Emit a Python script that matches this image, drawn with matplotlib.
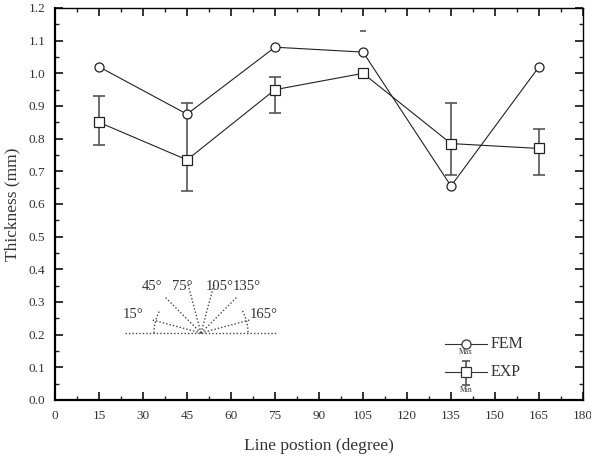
import numpy as np
import matplotlib
matplotlib.use("Agg")
import matplotlib.pyplot as plt
from matplotlib.ticker import MultipleLocator

plt.rcParams['font.family'] = ['Liberation Serif', 'DejaVu Serif']

positions = [15, 45, 75, 105, 135, 165]
fem = [1.02, 0.875, 1.08, 1.065, 0.655, 1.02]
exp_mean = [0.85, 0.735, 0.95, 1.00, 0.785, 0.77]
exp_lo = [0.78, 0.64, 0.88, 1.00, 0.69, 0.69]
exp_hi = [0.93, 0.91, 0.99, 1.13, 0.91, 0.83]
show_bar_line = [True, True, True, False, True, True]
inset_angles = [15, 45, 75, 105, 135, 165]
inset_labels = ["15°", "45°", "75°", "105°", "135°", "165°"]

W, H = 591, 462
fig = plt.figure(figsize=(W / 100, H / 100), dpi=100)
ax = fig.add_axes([55 / W, 1 - 400 / H, (583 - 55) / W, (400 - 8) / H])

tc = '#333333'
ax.plot(positions, fem, color='#222222', lw=0.8, marker='o', ms=6.5,
        mfc='white', mec='#222222', mew=0.9, zorder=3)
ax.plot(positions, exp_mean, color='#222222', lw=0.8, marker='s', ms=6.5,
        mfc='white', mec='#222222', mew=0.9, zorder=3)
for x, m, lo, hi, show in zip(positions, exp_mean, exp_lo, exp_hi, show_bar_line):
    if show:
        ax.vlines(x, lo, hi, color='#555555', lw=1.2, zorder=2)
        ax.plot([x, x], [lo, hi], ls='none', marker='_', ms=8, mew=1.2,
                color='#555555', zorder=2)
    else:
        ax.plot([x], [hi], ls='none', marker='_', ms=5, mew=1.2,
                color='#555555', zorder=2)

ax.set_xlim(0, 180)
ax.set_ylim(0, 1.2)
ax.xaxis.set_major_locator(MultipleLocator(15))
ax.xaxis.set_minor_locator(MultipleLocator(7.5))
ax.yaxis.set_major_locator(MultipleLocator(0.1))
ax.yaxis.set_minor_locator(MultipleLocator(0.05))
ax.yaxis.set_major_formatter(matplotlib.ticker.FormatStrFormatter('%.1f'))
ax.tick_params(which='both', direction='in', top=True, right=True,
               labelsize=9.5, colors='#222222', labelcolor=tc)
ax.tick_params(which='major', length=6, width=1.3, pad=7)
ax.tick_params(which='minor', length=3, width=1.0)
for s in ['left', 'bottom']:
    ax.spines[s].set_linewidth(1.6)
for s in ['top', 'right']:
    ax.spines[s].set_linewidth(1.0)
ax.set_xlabel("Line postion (degree)", fontsize=12.5, color=tc, labelpad=12)
ax.set_ylabel("Thickness (mm)", fontsize=12.5, color=tc, labelpad=6)

# overlay in pixel coordinates
ov = fig.add_axes([0, 0, 1, 1], facecolor='none')
ov.set_xlim(0, W)
ov.set_ylim(H, 0)
ov.axis('off')

cx, cy, r = 201, 333, 51
dot = dict(color='#444444', lw=1.0, ls=(0, (1, 1.5)))
ov.plot([125, 276], [cy, cy], **dot)
for a in inset_angles:
    t = np.deg2rad(a)
    ov.plot([cx, cx - r * np.cos(t)], [cy, cy - r * np.sin(t)], **dot)
for a0, a1 in [(0, 28), (152, 180)]:
    tt = np.deg2rad(np.linspace(a0, a1, 20))
    ov.plot(cx - 47 * np.cos(tt), cy - 47 * np.sin(tt), **dot)
label_pos = [(133, 314), (152, 287), (182, 287), (220, 287), (247, 287), (264, 314)]
for lab, (lx, ly) in zip(inset_labels, label_pos):
    ov.text(lx, ly, lab, ha='center', va='center', fontsize=10.5, color=tc)

# legend
lc = '#333333'
ov.plot([445, 487], [344, 344], color=lc, lw=0.8)
ov.plot([466], [344], marker='o', ms=6.5, mfc='white', mec=lc, mew=0.9)
ov.text(466, 352.5, "Max", ha='center', va='center', fontsize=5.5, color=tc)
ov.text(491, 344, "FEM", ha='left', va='center', fontsize=11.5, color=tc)
ov.plot([445, 487], [372, 372], color=lc, lw=0.8)
ov.vlines(466, 361, 385, color='#555555', lw=1.2)
ov.plot([466, 466], [361, 385], ls='none', marker='_', ms=6, mew=1.2, color='#555555')
ov.plot([466], [372], marker='s', ms=6.5, mfc='white', mec=lc, mew=0.9)
ov.text(466, 390, "Min", ha='center', va='center', fontsize=5.5, color=tc)
ov.text(491, 372, "EXP", ha='left', va='center', fontsize=11.5, color=tc)

fig.savefig("out.png", dpi=100)
